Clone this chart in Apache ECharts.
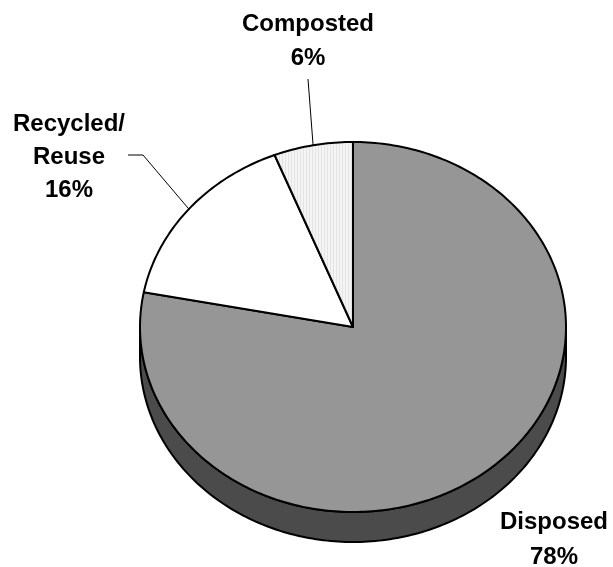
<!DOCTYPE html>
<html><head><meta charset="utf-8">
<script src="https://cdn.jsdelivr.net/npm/echarts@6/dist/echarts.min.js"></script>
<style>html,body{margin:0;padding:0;background:#fff}#c{width:613px;height:567px}</style>
</head><body><div id="c"></div>
<script>
// ---- data ----
const categories = ['Disposed', 'Recycled/\nReuse', 'Composted'];
const values = [78, 16, 6];

// ---- styles / layout (not data) ----
const geom = { cx: 353, cy: 327, rx: 213, ry: 185, depth: 30 };
const sliceColors = ['#969696', '#ffffff', 'stripe'];
const shadowColor = '#4b4b4b';
const labelLayout = [
  { x: 554, y: 540, lineHeight: 35, leader: null },
  { x: 69, y: 157, lineHeight: 33, leader: [[128, 155], [143, 155]] },
  { x: 308, y: 41, lineHeight: 34, leader: [[308, 79]] }
];

function stripePattern() {
  const c = document.createElement('canvas');
  c.width = 3; c.height = 4;
  const ctx = c.getContext('2d');
  ctx.fillStyle = '#f4f4f4'; ctx.fillRect(0, 0, 3, 4);
  ctx.fillStyle = '#e4e4e4'; ctx.fillRect(0, 0, 1, 4);
  return { image: c, repeat: 'repeat' };
}
const pattern = stripePattern();

function pt(theta, dy) {
  return [geom.cx + geom.rx * Math.sin(theta), geom.cy + (dy || 0) - geom.ry * Math.cos(theta)];
}
const total = values.reduce((a, b) => a + b, 0);
const cum = [];
values.reduce((acc, v, i) => { cum[i] = acc; return acc + v; }, 0);

const chart = echarts.init(document.getElementById('c'), null, { renderer: 'canvas' });
chart.setOption({
  backgroundColor: '#ffffff',
  animation: false,
  series: [
    {
      type: 'custom',
      coordinateSystem: 'none',
      silent: true,
      data: [total],
      renderItem: function () {
        const pts = [];
        const N = 180;
        for (let k = 0; k <= N; k++) pts.push(pt(Math.PI / 2 + Math.PI * k / N));
        for (let k = N; k >= 0; k--) pts.push(pt(Math.PI / 2 + Math.PI * k / N, geom.depth));
        return {
          type: 'polygon',
          shape: { points: pts },
          style: { fill: shadowColor, stroke: '#000', lineWidth: 2, lineJoin: 'round' }
        };
      }
    },
    {
      type: 'custom',
      coordinateSystem: 'none',
      silent: true,
      data: values.map((v, i) => ({ name: categories[i], value: v })),
      renderItem: function (params, api) {
        const i = params.dataIndex;
        const v = api.value(0);
        const a0 = cum[i] / total * 2 * Math.PI;
        const a1 = (cum[i] + v) / total * 2 * Math.PI;
        const steps = Math.max(2, Math.ceil((a1 - a0) / (Math.PI / 180)));
        const pts = [[geom.cx, geom.cy]];
        for (let k = 0; k <= steps; k++) pts.push(pt(a0 + (a1 - a0) * k / steps));
        const fill = sliceColors[i] === 'stripe' ? pattern : sliceColors[i];
        const children = [{
          type: 'polygon',
          shape: { points: pts },
          style: { fill: fill, stroke: '#000', lineWidth: 2, lineJoin: 'round' }
        }];
        const L = labelLayout[i];
        if (L.leader) {
          const mid = pt((a0 + a1) / 2);
          children.push({
            type: 'polyline',
            shape: { points: L.leader.concat([mid]) },
            style: { stroke: '#000', lineWidth: 1, fill: null }
          });
        }
        children.push({
          type: 'text',
          style: {
            text: categories[i] + '\n' + v + '%',
            x: L.x, y: L.y,
            align: 'center', verticalAlign: 'middle',
            font: 'bold 24px "Liberation Sans", Arial, sans-serif',
            lineHeight: L.lineHeight,
            fill: '#000'
          }
        });
        return { type: 'group', children: children };
      }
    }
  ]
});
</script>
</body></html>
